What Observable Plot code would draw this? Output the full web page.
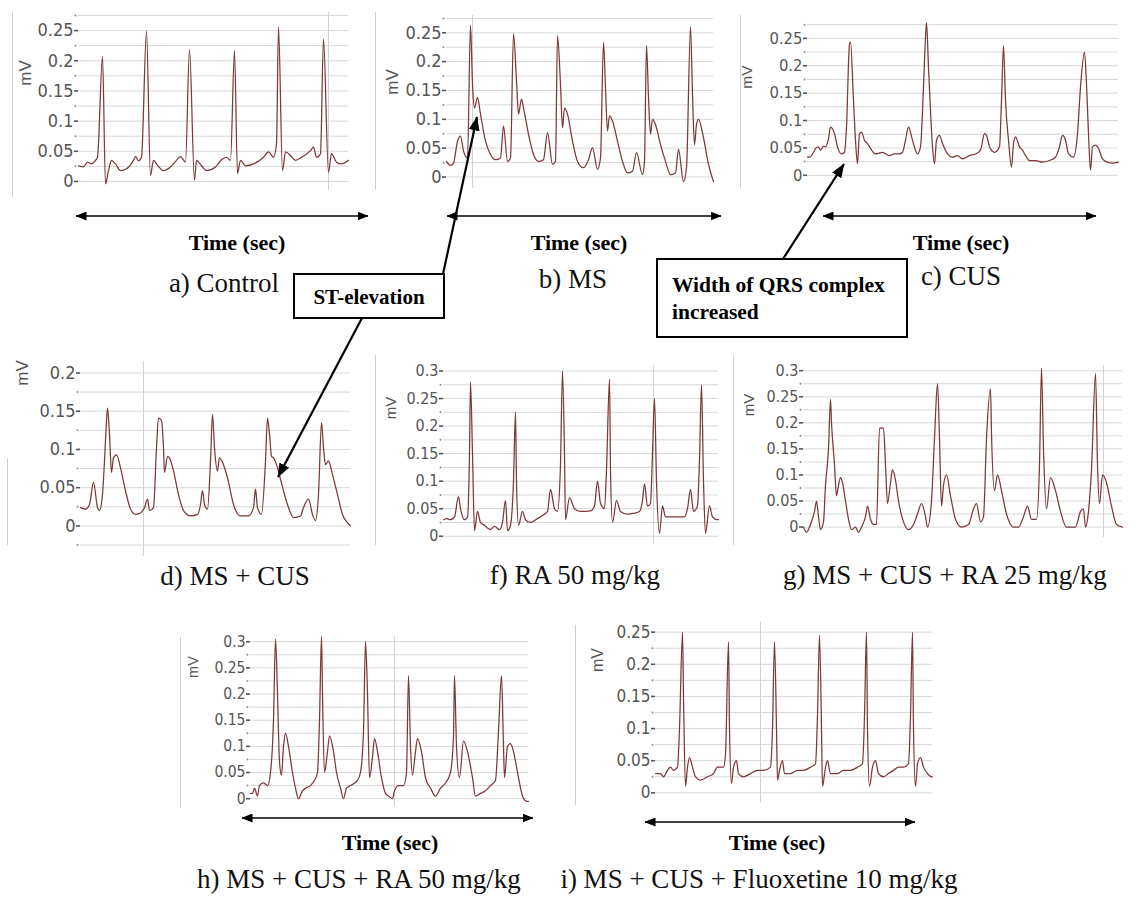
<!DOCTYPE html>
<html>
<head>
<meta charset="utf-8">
<script src="https://cdn.jsdelivr.net/npm/d3@7"></script>
<script src="https://cdn.jsdelivr.net/npm/@observablehq/plot@0.6"></script>
<style>
html,body{margin:0;padding:0;background:#fff;}
#fig{position:relative;width:1136px;height:898px;overflow:hidden;background:#fff;}
.border{position:absolute;border-left:1.5px solid #cfcfcf;}
.mv{position:absolute;font-family:"Liberation Sans",Arial,sans-serif;color:#555;transform:translate(-50%,-50%) rotate(-90deg);white-space:nowrap;line-height:1;}
</style>
</head>
<body>
<div id="fig"></div>
<script>
// ---------- DATA (time index, mV) ----------
const controlECG = [[0,0.026],[5,0.024],[9,0.032],[13,0.029],[17,0.035],[19,0.040],[24,0.207],[27,-0.004],[30,0.018],[33,0.035],[37,0.029],[42,0.018],[48,0.021],[55,0.035],[57,0.041],[60,0.034],[63,0.040],[68,0.249],[72,0.010],[75,0.035],[78,0.029],[85,0.018],[92,0.024],[98,0.035],[102,0.041],[107,0.032],[111,0.219],[116,0.002],[118,0.035],[123,0.026],[128,0.018],[137,0.024],[143,0.036],[148,0.040],[152,0.035],[156,0.217],[159,0.013],[162,0.035],[167,0.026],[175,0.029],[185,0.040],[190,0.049],[195,0.040],[198,0.062],[200,0.256],[204,0.018],[207,0.049],[212,0.043],[217,0.035],[223,0.040],[232,0.051],[235,0.057],[238,0.040],[242,0.046],[245,0.236],[250,0.015],[253,0.046],[258,0.032],[263,0.029],[270,0.035]];

const msECG = [[0,0.027],[4,0.020],[7,0.024],[11,0.062],[14,0.071],[17,0.045],[21,0.033],[24,0.263],[26,0.161],[28,0.120],[31,0.138],[34,0.109],[39,0.062],[44,0.039],[49,0.030],[54,0.033],[57,0.088],[61,0.027],[64,0.033],[67,0.248],[70,0.167],[72,0.109],[75,0.135],[77,0.120],[82,0.074],[87,0.039],[92,0.027],[97,0.030],[101,0.077],[106,0.022],[109,0.027],[111,0.245],[114,0.161],[116,0.085],[118,0.120],[121,0.109],[126,0.062],[131,0.027],[137,0.016],[142,0.030],[146,0.051],[151,0.013],[154,0.033],[157,0.234],[159,0.155],[161,0.080],[163,0.106],[166,0.097],[171,0.062],[176,0.027],[181,0.007],[186,0.010],[190,0.042],[196,0.004],[198,0.027],[200,0.228],[202,0.138],[204,0.074],[206,0.100],[209,0.091],[214,0.056],[219,0.027],[224,0.004],[229,0.007],[232,0.048],[237,-0.008],[240,0.016],[244,0.260],[246,0.144],[248,0.056],[250,0.091],[252,0.100],[257,0.068],[262,0.022],[267,-0.008]];

const cusECG = [[0,0.033],[2,0.033],[6,0.042],[8,0.049],[11,0.052],[13,0.046],[16,0.053],[18,0.052],[21,0.067],[23,0.088],[27,0.076],[30,0.052],[34,0.039],[37,0.042],[39,0.088],[42,0.240],[43,0.243],[46,0.137],[48,0.064],[50,0.021],[52,0.076],[54,0.079],[57,0.064],[60,0.058],[63,0.049],[68,0.039],[75,0.042],[82,0.036],[87,0.039],[92,0.039],[95,0.042],[98,0.064],[101,0.088],[105,0.064],[110,0.039],[113,0.052],[116,0.161],[118,0.252],[119,0.279],[121,0.197],[123,0.118],[125,0.052],[127,0.021],[129,0.064],[132,0.073],[135,0.058],[140,0.039],[145,0.033],[150,0.036],[155,0.030],[162,0.036],[168,0.039],[173,0.046],[177,0.076],[179,0.073],[182,0.052],[187,0.042],[192,0.052],[194,0.137],[196,0.237],[198,0.137],[201,0.064],[204,0.015],[206,0.058],[208,0.070],[212,0.052],[215,0.046],[218,0.036],[222,0.027],[228,0.027],[235,0.024],[242,0.027],[248,0.033],[252,0.052],[255,0.073],[258,0.064],[261,0.039],[266,0.033],[270,0.076],[273,0.161],[277,0.225],[279,0.167],[281,0.076],[283,0.009],[285,0.052],[288,0.055],[291,0.049],[295,0.030],[300,0.024],[305,0.022],[311,0.024]];

const msCusECG = [[0,0.024],[5,0.022],[9,0.028],[13,0.057],[17,0.024],[19,0.020],[22,0.041],[24,0.085],[26,0.137],[27,0.154],[29,0.120],[31,0.070],[33,0.089],[36,0.093],[40,0.076],[45,0.046],[50,0.022],[55,0.015],[60,0.017],[64,0.024],[67,0.035],[69,0.020],[73,0.024],[76,0.102],[78,0.141],[81,0.138],[83,0.102],[84,0.070],[87,0.091],[89,0.089],[93,0.072],[98,0.041],[103,0.020],[110,0.013],[117,0.015],[120,0.028],[122,0.046],[124,0.028],[127,0.022],[130,0.085],[132,0.146],[134,0.102],[137,0.072],[139,0.089],[143,0.080],[147,0.063],[153,0.028],[160,0.013],[168,0.013],[173,0.024],[175,0.048],[177,0.024],[181,0.015],[185,0.085],[187,0.141],[189,0.120],[191,0.091],[193,0.089],[197,0.076],[200,0.061],[203,0.046],[208,0.024],[213,0.011],[220,0.013],[223,0.024],[228,0.035],[232,0.015],[235,0.007],[238,0.041],[241,0.135],[243,0.102],[245,0.080],[248,0.085],[252,0.067],[257,0.041],[262,0.015],[267,0.004],[270,0.000]];

const ra50ECG = [[0,0.030],[3,0.032],[7,0.030],[11,0.035],[15,0.072],[17,0.050],[21,0.030],[24,0.035],[26,0.150],[27,0.280],[29,0.150],[31,0.010],[34,0.045],[37,0.025],[41,0.020],[44,0.015],[47,0.012],[51,0.018],[56,0.012],[59,0.025],[62,0.065],[64,0.010],[67,0.020],[70,0.100],[72,0.225],[73,0.100],[75,0.020],[79,0.045],[82,0.030],[87,0.025],[94,0.032],[101,0.040],[104,0.045],[107,0.085],[111,0.050],[114,0.045],[117,0.130],[119,0.300],[121,0.150],[122,0.030],[126,0.070],[131,0.050],[137,0.045],[147,0.046],[151,0.055],[154,0.100],[157,0.060],[161,0.050],[163,0.120],[166,0.285],[167,0.120],[169,0.025],[173,0.065],[177,0.045],[184,0.040],[191,0.042],[196,0.045],[199,0.065],[201,0.095],[204,0.055],[207,0.060],[209,0.150],[211,0.250],[213,0.100],[216,0.005],[219,0.055],[222,0.035],[227,0.035],[234,0.035],[241,0.035],[244,0.050],[247,0.085],[250,0.045],[254,0.055],[256,0.140],[258,0.275],[260,0.100],[262,0.005],[266,0.055],[269,0.035],[274,0.030],[275,0.030]];

const msCusRa25ECG = [[0,0.000],[3,-0.010],[7,0.005],[11,0.030],[13,0.050],[15,0.020],[17,-0.005],[20,0.010],[22,0.080],[25,0.150],[27,0.245],[28,0.200],[31,0.120],[33,0.060],[35,0.080],[37,0.095],[39,0.085],[42,0.050],[45,0.015],[48,-0.005],[52,0.000],[55,-0.010],[58,0.000],[62,0.020],[64,0.040],[67,0.015],[70,0.005],[73,0.005],[76,0.190],[80,0.190],[82,0.120],[84,0.045],[87,0.085],[89,0.110],[92,0.090],[95,0.050],[100,0.010],[105,-0.005],[110,0.005],[114,0.025],[118,0.045],[122,0.020],[124,0.000],[128,0.050],[131,0.170],[134,0.275],[136,0.170],[138,0.040],[140,0.080],[143,0.100],[147,0.060],[152,0.015],[158,0.000],[165,0.005],[170,0.035],[173,0.045],[177,0.010],[180,0.020],[183,0.170],[187,0.265],[188,0.180],[191,0.070],[194,0.100],[198,0.070],[203,0.025],[210,0.000],[215,0.000],[220,0.020],[224,0.040],[228,0.015],[233,0.015],[236,0.120],[238,0.305],[240,0.150],[243,0.035],[247,0.095],[252,0.070],[257,0.030],[263,0.000],[272,0.000],[277,0.030],[280,0.035],[282,0.000],[285,0.030],[288,0.110],[292,0.295],[294,0.120],[296,0.045],[299,0.100],[303,0.085],[308,0.040],[313,0.005],[319,0.000]];

const msCusRa50ECG = [[0,0.010],[2,0.010],[4,0.020],[7,0.005],[9,0.025],[13,0.030],[17,0.025],[20,0.050],[23,0.150],[25,0.305],[27,0.200],[29,0.070],[31,0.045],[33,0.100],[35,0.125],[38,0.100],[42,0.050],[45,0.020],[48,0.000],[52,0.015],[55,0.020],[60,0.025],[64,0.035],[67,0.050],[69,0.150],[71,0.310],[72,0.200],[74,0.050],[77,0.090],[79,0.120],[83,0.090],[86,0.050],[90,0.020],[93,0.000],[96,0.020],[100,0.025],[107,0.035],[110,0.050],[113,0.130],[115,0.300],[117,0.200],[119,0.040],[122,0.080],[124,0.115],[127,0.090],[131,0.040],[135,0.010],[138,0.005],[142,0.000],[144,0.015],[148,0.025],[153,0.025],[156,0.050],[158,0.235],[160,0.100],[162,0.045],[165,0.090],[167,0.115],[171,0.090],[175,0.040],[180,0.020],[185,0.005],[190,0.020],[195,0.030],[200,0.050],[203,0.120],[204,0.235],[206,0.100],[209,0.040],[213,0.110],[217,0.090],[222,0.040],[225,0.005],[230,0.010],[235,0.015],[240,0.025],[245,0.035],[248,0.130],[251,0.235],[253,0.100],[254,0.040],[257,0.100],[260,0.105],[263,0.090],[268,0.040],[272,0.005],[276,-0.005],[278,-0.005]];

const msCusFluECG = [[0,0.030],[2,0.030],[5,0.030],[8,0.025],[12,0.035],[15,0.040],[18,0.035],[22,0.040],[24,0.100],[27,0.250],[28,0.150],[30,0.010],[32,0.040],[34,0.055],[37,0.040],[40,0.025],[45,0.020],[52,0.025],[58,0.030],[62,0.040],[68,0.040],[70,0.060],[73,0.235],[74,0.100],[76,0.015],[78,0.040],[81,0.050],[83,0.030],[88,0.025],[95,0.030],[102,0.035],[108,0.035],[115,0.040],[117,0.100],[119,0.235],[121,0.100],[122,0.020],[124,0.035],[127,0.050],[129,0.030],[135,0.030],[142,0.035],[148,0.035],[155,0.040],[160,0.045],[162,0.120],[164,0.245],[166,0.100],[167,0.010],[170,0.040],[172,0.050],[175,0.030],[182,0.030],[188,0.035],[195,0.035],[202,0.040],[207,0.045],[209,0.120],[211,0.250],[212,0.100],[214,0.010],[217,0.040],[220,0.050],[223,0.030],[228,0.025],[233,0.030],[238,0.035],[243,0.040],[248,0.040],[253,0.045],[255,0.120],[257,0.250],[258,0.100],[260,0.010],[262,0.045],[265,0.055],[268,0.040],[272,0.030],[276,0.025],[277,0.025]];

// tick labels of each panel's mV axis
const ticks025 = [0, 0.05, 0.1, 0.15, 0.2, 0.25];
const ticks020 = [0, 0.05, 0.1, 0.15, 0.2];
const ticks030 = [0, 0.05, 0.1, 0.15, 0.2, 0.25, 0.3];

const panelLabels = ["a) Control", "b) MS", "c) CUS", "d) MS + CUS", "f) RA 50 mg/kg",
  "g) MS + CUS + RA 25 mg/kg", "h) MS + CUS + RA 50 mg/kg", "i) MS + CUS + Fluoxetine 10 mg/kg"];
const axisTitle = "mV";
const timeTitle = "Time (sec)";
const noteST = "ST-elevation";
const noteQRS = ["Width of QRS complex", "increased"];

// ---------- LAYOUT ----------
const layout = [
  {series: controlECG, ticks: ticks025, domain: [-0.015, 0.28], x0: 78, x1: 348, zeroY: 181, k: 604, vgrid: 250, fs: 18, mvAt: [25, 73], border: [12, 12, 197]},
  {series: msECG, ticks: ticks025, domain: [-0.02, 0.28], x0: 446, x1: 713, zeroY: 176, k: 576, vgrid: 26, fs: 18, mvAt: [392, 82], border: [375, 12, 190]},
  {series: cusECG, ticks: ticks025, domain: [-0.015, 0.29], x0: 807, x1: 1118, zeroY: 175, k: 548, vgrid: null, fs: 16.5, mvAt: [747, 77], border: [740, 15, 188]},
  {series: msCusECG, ticks: ticks020, domain: [-0.04, 0.215], x0: 80, x1: 350, zeroY: 525, k: 765, vgrid: 63, fs: 18, mvAt: [22, 373], border: [7, 458, 545]},
  {series: ra50ECG, ticks: ticks030, domain: [-0.015, 0.31], x0: 443, x1: 718, zeroY: 535, k: 550, vgrid: 210, fs: 16, mvAt: [390, 408], border: [375, 355, 545]},
  {series: msCusRa25ECG, ticks: ticks030, domain: [-0.02, 0.31], x0: 803, x1: 1122, zeroY: 526, k: 520, vgrid: 300, fs: 16, mvAt: [748, 405], border: [733, 355, 545]},
  {series: msCusRa50ECG, ticks: ticks030, domain: [-0.015, 0.31], x0: 250, x1: 528, zeroY: 798, k: 523, vgrid: 144, fs: 15.5, mvAt: [193, 667], border: [180, 637, 808]},
  {series: msCusFluECG, ticks: ticks025, domain: [-0.015, 0.265], x0: 655, x1: 932, zeroY: 793, k: 644, vgrid: 105, fs: 17, mvAt: [598, 660], border: [575, 625, 805]}
];

const fig = document.getElementById("fig");
const tickFont = '"Liberation Sans Narrow","Arial Narrow","DejaVu Sans Condensed","Liberation Sans",sans-serif';

layout.forEach((L) => {
  const [lo, hi] = L.domain;
  const top = L.zeroY - hi * L.k, bottom = L.zeroY - lo * L.k;
  const mL = 64, mR = 3, mT = 3, mB = 3;
  const w = L.x1 - L.x0;
  const grid = d3.range(Math.ceil(lo / 0.025 - 1e-9), Math.floor(hi / 0.025 + 1e-9) + 1).map(i => +(i * 0.025).toFixed(3));
  const minor = grid.filter(v => Math.abs(v / 0.05 - Math.round(v / 0.05)) > 0.1);
  const rows = L.series.map(([t, mv]) => ({t, mv}));
  const marks = [
    Plot.ruleY(grid, {stroke: "#d7d7d7", strokeWidth: 1}),
  ];
  if (L.vgrid !== null) marks.push(Plot.ruleX([L.vgrid], {stroke: "#d2d2d2", strokeWidth: 1}));
  marks.push(
    Plot.axisY(L.ticks, {tickSize: 4, tickPadding: 1, strokeWidth: 1.6, fontSize: L.fs, label: null,
      tickFormat: d => String(+d.toFixed(3))}),
    Plot.dot(minor, {x: () => 0, y: d => d, r: 1, fill: "#8a8a8a", stroke: null, dx: -3}),
    Plot.line(rows, {x: "t", y: "mv", stroke: "#7e3838", strokeWidth: 1.25, strokeLinejoin: "round", curve: "monotone-x"})
  );
  const svg = Plot.plot({
    width: w + mL + mR,
    height: Math.round(bottom - top) + mT + mB,
    marginLeft: mL, marginRight: mR, marginTop: mT, marginBottom: mB,
    x: {domain: [0, w], axis: null, label: null},
    y: {domain: [lo, hi], axis: null, label: null},
    style: {background: "transparent", color: "#555", fontFamily: tickFont, overflow: "visible"},
    marks
  });
  svg.style.position = "absolute";
  svg.style.left = (L.x0 - mL) + "px";
  svg.style.top = (top - mT) + "px";
  fig.appendChild(svg);

  const b = document.createElement("div");
  b.className = "border";
  b.style.left = L.border[0] + "px";
  b.style.top = L.border[1] + "px";
  b.style.height = (L.border[2] - L.border[1]) + "px";
  fig.appendChild(b);

  const mv = document.createElement("div");
  mv.className = "mv";
  mv.textContent = axisTitle;
  mv.style.left = L.mvAt[0] + "px";
  mv.style.top = L.mvAt[1] + "px";
  mv.style.fontSize = (L.fs - 1) + "px";
  fig.appendChild(mv);
});

// ---------- OVERLAY: labels, time arrows, annotations ----------
const ov = d3.select(fig).append("svg")
  .attr("width", 1136).attr("height", 898)
  .style("position", "absolute").style("left", "0px").style("top", "0px");
const defs = ov.append("defs");
function marker(id, len, wid, color) {
  defs.append("marker").attr("id", id)
    .attr("viewBox", `0 0 ${len} ${wid}`).attr("refX", len - 0.5).attr("refY", wid / 2)
    .attr("markerWidth", len).attr("markerHeight", wid)
    .attr("markerUnits", "userSpaceOnUse").attr("orient", "auto-start-reverse")
    .append("path").attr("d", `M0,0L${len},${wid / 2}L0,${wid}Z`).attr("fill", color);
}
marker("ah", 11, 9, "#000");
marker("ahBig", 14, 11, "#000");

const serif = '"Liberation Serif","Times New Roman",serif';

// time arrows + titles
const timeArrows = [
  {x1: 76, x2: 368, y: 216, cx: 237, ty: 250},
  {x1: 447, x2: 721, y: 216, cx: 579, ty: 250},
  {x1: 823, x2: 1096, y: 216, cx: 961, ty: 250},
  {x1: 242, x2: 533, y: 818, cx: 390, ty: 850},
  {x1: 645, x2: 915, y: 822, cx: 777, ty: 850}
];
timeArrows.forEach(a => {
  ov.append("line").attr("x1", a.x1).attr("x2", a.x2).attr("y1", a.y).attr("y2", a.y)
    .attr("stroke", "#000").attr("stroke-width", 1.6)
    .attr("marker-start", "url(#ah)").attr("marker-end", "url(#ah)");
  ov.append("text").attr("x", a.cx).attr("y", a.ty).attr("text-anchor", "middle")
    .attr("font-family", serif).attr("font-weight", "bold").attr("font-size", 22)
    .text(timeTitle);
});

// panel labels
const labelPos = [[224, 292], [573, 288], [961, 285], [235, 585], [575, 584], [945, 584], [359, 888], [759, 888]];
panelLabels.forEach((s, i) => {
  ov.append("text").attr("x", labelPos[i][0]).attr("y", labelPos[i][1]).attr("text-anchor", "middle")
    .attr("font-family", serif).attr("font-size", 27).attr("fill", "#111").text(s);
});

// ST-elevation annotation
ov.append("line").attr("x1", 443).attr("y1", 274).attr("x2", 477).attr("y2", 117)
  .attr("stroke", "#000").attr("stroke-width", 2.2).attr("marker-end", "url(#ahBig)");
ov.append("line").attr("x1", 362).attr("y1", 318).attr("x2", 278).attr("y2", 477)
  .attr("stroke", "#000").attr("stroke-width", 2.2).attr("marker-end", "url(#ahBig)");
ov.append("rect").attr("x", 294).attr("y", 274).attr("width", 150).attr("height", 44)
  .attr("fill", "#fff").attr("stroke", "#000").attr("stroke-width", 2);
ov.append("text").attr("x", 369).attr("y", 304).attr("text-anchor", "middle")
  .attr("font-family", serif).attr("font-weight", "bold").attr("font-size", 21).text(noteST);

// QRS annotation
ov.append("line").attr("x1", 783).attr("y1", 259).attr("x2", 844).attr("y2", 164)
  .attr("stroke", "#000").attr("stroke-width", 2.2).attr("marker-end", "url(#ahBig)");
ov.append("rect").attr("x", 657).attr("y", 259).attr("width", 250).attr("height", 78)
  .attr("fill", "#fff").attr("stroke", "#000").attr("stroke-width", 2);
noteQRS.forEach((s, i) => {
  ov.append("text").attr("x", 672).attr("y", 292 + i * 27).attr("text-anchor", "start")
    .attr("font-family", serif).attr("font-weight", "bold").attr("font-size", 21.5).text(s);
});
</script>
</body>
</html>
